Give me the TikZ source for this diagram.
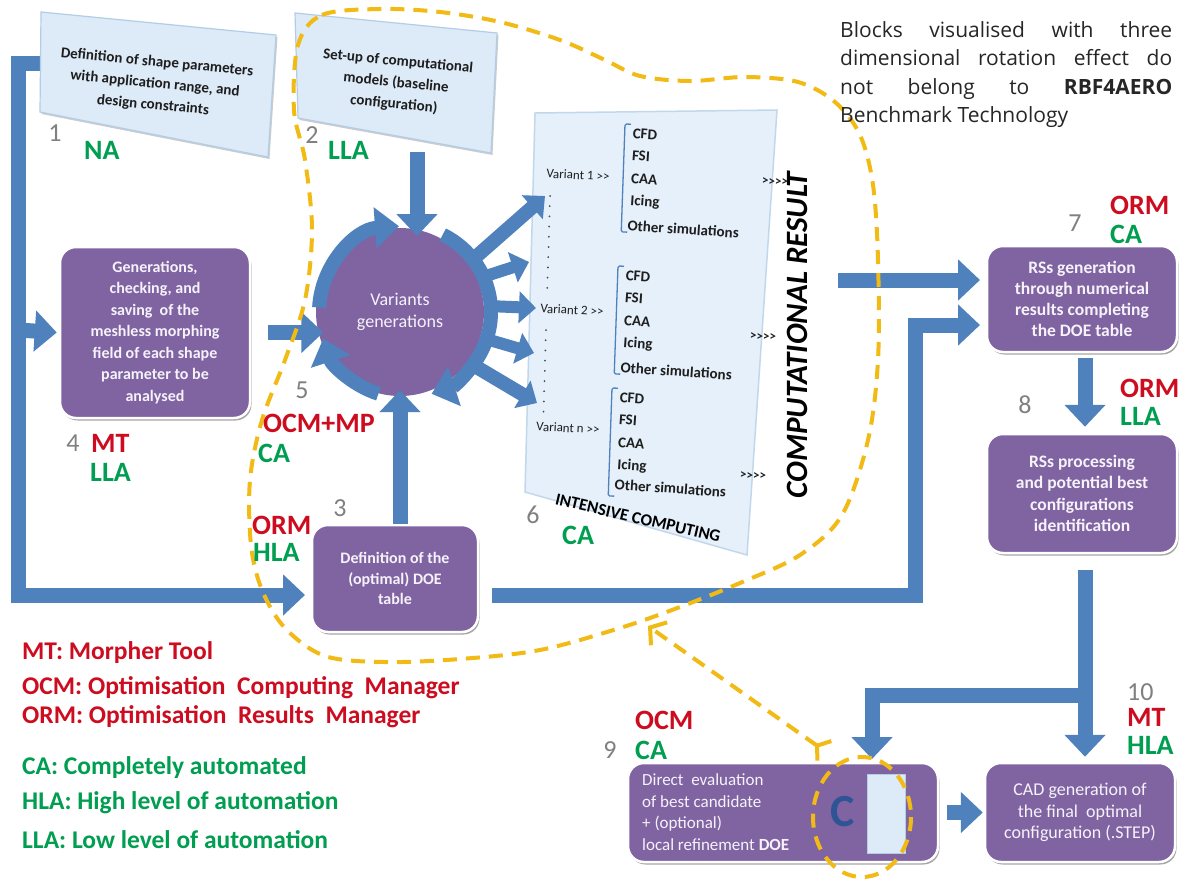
\documentclass[tikz,border=0pt]{standalone}
\usepackage{fontspec}
\setmainfont{Carlito}
\newfontfamily\osans{Open Sans}
\usetikzlibrary{arrows.meta,calc,shadows}
\definecolor{ablue}{RGB}{79,129,189}
\definecolor{vpurple}{RGB}{128,100,162}
\definecolor{ptext}{RGB}{246,242,250}
\definecolor{lblue}{RGB}{221,234,247}
\definecolor{lbluee}{RGB}{180,205,230}
\definecolor{panelblue}{RGB}{229,240,250}
\definecolor{lred}{RGB}{205,12,32}
\definecolor{lgreen}{RGB}{0,158,80}
\definecolor{lgray}{RGB}{128,128,128}
\definecolor{dyell}{RGB}{242,186,20}
\definecolor{cnavy}{RGB}{46,84,150}
\definecolor{dtext}{RGB}{30,30,30}
\newcommand\gtch{>{}}
\tikzset{
  barrow/.style={line width=15pt, draw=ablue, line join=miter, -{Triangle[length=22pt,width=40pt]}},
  sarrow/.style={line width=12pt, draw=ablue, -{Triangle[length=17pt,width=31pt]}},
  ringarrow/.style={line width=14pt, draw=ablue, -{Triangle[length=24pt,width=40pt]}},
  pbox/.style={rectangle, rounded corners=16pt, fill=vpurple, draw=white, line width=2.5pt,
     drop shadow={shadow xshift=1.5pt, shadow yshift=-2.5pt, opacity=0.35, fill=black},
     text=ptext, align=center, inner sep=2pt},
  tdbox/.style={fill=lblue, draw=lbluee, line width=1.2pt,
     drop shadow={shadow xshift=1.5pt, shadow yshift=-2pt, opacity=0.2, fill=black}},
  tdtext/.style={rotate=-5.5, align=center, text=dtext, inner sep=0pt,
     font=\bfseries\fontsize{15}{21.5}\selectfont},
  numlab/.style={text=lgray, inner sep=0pt, font=\fontsize{26}{26}\selectfont},
  redlab/.style={text=lred, inner sep=0pt, anchor=west, font=\bfseries\fontsize{28}{28}\selectfont},
  grnlab/.style={text=lgreen, inner sep=0pt, anchor=west, font=\bfseries\fontsize{28}{28}\selectfont},
  legr/.style={text=lred, inner sep=0pt, anchor=west, font=\bfseries\fontsize{25.5}{25.5}\selectfont},
  legg/.style={text=lgreen, inner sep=0pt, anchor=west, font=\bfseries\fontsize{25.5}{25.5}\selectfont},
  sim/.style={anchor=west, rotate=-4, inner sep=0pt, text=dtext, font=\bfseries\fontsize{15}{15}\selectfont},
  var/.style={rotate=-3, inner sep=0pt, text=dtext, font=\fontsize{13}{13}\selectfont},
  brk/.style={draw=ablue, line width=1.3pt, rounded corners=1.5pt},
  ydash/.style={draw=dyell, line width=4pt, dash pattern=on 14pt off 9pt},
}
\newcommand\simblock[4]{%
  \begin{scope}[shift={(#2,#3)}, rotate=-2]
    \draw[brk] (6,0) -- (0,0) -- (0,108) -- (6,108);
    \node[sim] (#1a) at (8,9) {CFD};
    \node[sim] (#1b) at (8,31) {FSI};
    \node[sim] (#1c) at (8,54) {CAA};
    \node[sim] (#1d) at (8,77) {Icing};
    \node[sim] (#1e) at (6,#4) {Other simulations};
  \end{scope}}
\begin{document}
\begin{tikzpicture}[x=1pt,y=-1pt]
\useasboundingbox (0,0) rectangle (1188,879);
\fill[white] (0,0) rectangle (1188,879);

% ---------- panel 6 ----------
\draw[fill=panelblue, draw=lbluee!80, line width=1.5pt] (535,113) -- (777,110) -- (747,555) -- (525,492) -- cycle;
\node[var] (var1) at (578,175) {Variant 1 \gtch\gtch};
\node[var] (var2) at (572,310) {Variant 2 \gtch\gtch};
\node[var] (varn) at (568,428) {Variant n \gtch\gtch};
\simblock{s1}{625}{124}{101}
\simblock{s2}{618}{266}{101}
\simblock{s3}{612}{388}{96}
\node[var, font=\bfseries\fontsize{13}{13}\selectfont] (g1) at (775,182) {\gtch\gtch\gtch\gtch};
\node[var, font=\bfseries\fontsize{13}{13}\selectfont] (g2) at (763,337) {\gtch\gtch\gtch\gtch};
\node[var, font=\bfseries\fontsize{13}{13}\selectfont] (g3) at (753,476) {\gtch\gtch\gtch\gtch};
\foreach \i in {0,...,9} \fill[black!70] (550-0.3*\i,196+10.2*\i) circle (1pt);
\foreach \i in {0,...,8} \fill[black!70] (546-0.3*\i,330+10.2*\i) circle (1pt);
\node[rotate=-13, inner sep=0pt, text=black, font=\bfseries\fontsize{17}{17}\selectfont] (intc) at (638,518) {INTENSIVE COMPUTING};
\node[rotate=90, inner sep=0pt, text=black, font=\bfseries\itshape\fontsize{31}{31}\selectfont] (compres) at (797,335) {COMPUTATIONAL RESULT};

% ---------- circle ----------
\node[circle, fill=vpurple, minimum size=168pt, inner sep=0pt, text=ptext, align=center,
      font=\fontsize{18}{22}\selectfont] (circ) at (400,312) {Variants\\generations};
\coordinate (cc) at (405,312);

% ---------- purple boxes ----------
\node[pbox, minimum width=190pt, minimum height=171pt, font=\bfseries\fontsize{16}{21.5}\selectfont] (box4) at (155,332.5)
  {Generations,\\checking, and\\saving\ \ of the\\meshless morphing\\field of each shape\\parameter to be\\analysed};
\node[pbox, minimum width=166pt, minimum height=107pt, font=\bfseries\fontsize{16}{20.5}\selectfont] (box3) at (395,578.5)
  {Definition of the\\(optimal) DOE\\table};
\node[pbox, minimum width=190pt, minimum height=106pt, font=\bfseries\fontsize{17.5}{21}\selectfont] (box7) at (1082,299)
  {RSs generation\\through numerical\\results completing\\the DOE table};
\node[pbox, minimum width=190pt, minimum height=119pt, font=\bfseries\fontsize{17.5}{21.5}\selectfont] (box8) at (1082,493.5)
  {RSs processing\\and potential best\\configurations\\identification};
\node[pbox, minimum width=310pt, minimum height=99pt] (box9) at (783,812.5) {};
\node[anchor=west, inner sep=0pt, text=ptext, align=left, font=\fontsize{17}{21.5}\selectfont] (box9t) at (642,812)
  {Direct\ \ evaluation\\of best candidate\\+ (optional)\\local refinement \textbf{DOE}};
\draw[fill=lblue, draw=lbluee, line width=1pt] (867,774) rectangle (905,853);
\node[inner sep=0pt, text=cnavy, font=\bfseries\fontsize{46}{46}\selectfont] (cletter) at (843,812) {C};
\node[pbox, minimum width=190pt, minimum height=99pt, font=\fontsize{18}{21.5}\selectfont] (box10) at (1080,812.5)
  {CAD generation of\\the final\ \ optimal\\configuration (.STEP)};

% ---------- blue block arrows ----------
\coordinate (fr0) at (41,63);
\coordinate (fr1) at (18.5,63);
\coordinate (fr2) at (18.5,595);
\coordinate (in3) at (305,595);
\draw[barrow] (fr0) -- (fr1) -- (fr2) -- (in3);
\coordinate (br4) at (18.5,330);
\draw[barrow] (br4) -- ([xshift=-2pt]box4.west);
\draw[barrow] ([xshift=17pt]box4.east) -- ++(55,0);
\coordinate (a2s) at (417,152);
\coordinate (a2e) at (417,236);
\draw[barrow] (a2s) -- (a2e);
\draw[barrow] ([xshift=5pt]box3.north) -- ([yshift=6pt]circ.south);
\coordinate (p6o) at (838,280);
\coordinate (p7i) at (980,280);
\draw[barrow] (p6o) -- (p7i);
\coordinate (d3o) at (492,595);
\coordinate (d3m) at (915,595);
\coordinate (d7i) at (980,325);
\draw[barrow] (d3o) -- (d3m) |- (d7i);
\draw[barrow] ([xshift=3pt,yshift=-5pt]box7.south) -- ([xshift=3pt,yshift=6pt]box8.north);
\draw[barrow] ([xshift=3pt,yshift=-16pt]box8.south) -- ([xshift=5pt,yshift=5pt]box10.north);
\coordinate (sp9) at (1085,695);
\coordinate (in9) at (872,759);
\draw[barrow] (sp9) -| (in9);
\draw[barrow] ([xshift=8pt]box9.east) -- ([xshift=-1pt]box10.west);

% radial arrows
\coordinate (r1s) at (470,262); \coordinate (r1e) at (545,196);
\coordinate (r2s) at (486,276); \coordinate (r2e) at (529,262);
\coordinate (r3s) at (488,306); \coordinate (r3e) at (536,308);
\coordinate (r4s) at (486,339); \coordinate (r4e) at (534,353);
\coordinate (r5s) at (468,362); \coordinate (r5e) at (537,403);
\draw[sarrow, line width=14pt] (r1s) -- (r1e);
\draw[sarrow] (r2s) -- (r2e);
\draw[sarrow] (r3s) -- (r3e);
\draw[sarrow] (r4s) -- (r4e);
\draw[sarrow, line width=14pt] (r5s) -- (r5e);
% ring arrows
\draw[ringarrow] ([shift={(183:86)}]cc) arc[start angle=183, end angle=266, radius=86];
\draw[ringarrow] ([shift={(296:86)}]cc) arc[start angle=296, end angle=432, radius=86];
\draw[ringarrow] ([shift={(108:86)}]cc) arc[start angle=108, end angle=162, radius=86];

% ---------- 3D rotated boxes ----------
\draw[tdbox] (41,12) -- (276,35) -- (268,157) -- (40,112) -- cycle;
\node[tdtext] (b1) at (155,84) {Definition of shape parameters\\with application range, and\\design constraints};
\draw[tdbox] (295,13) -- (497,33) -- (491,153) -- (298,118) -- cycle;
\node[tdtext] (b2) at (396,83) {Set-up of computational\\models (baseline\\configuration)};

% ---------- dashed yellow ----------
\draw[ydash] plot[smooth cycle, tension=0.55] coordinates {(298,45) (322,15) (380,9) (440,12) (500,22) (560,40) (605,60) (640,76) (690,81) (745,77) (798,82) (835,102) (860,135) (873,185) (878,260) (878,360) (868,440) (842,515) (800,555) (740,583) (680,607) (620,628) (540,650) (460,659) (385,662) (325,656) (285,628) (262,590) (251,545) (250,480) (262,420) (285,360) (305,300) (312,230) (305,160) (294,110)};
\coordinate (ellc) at (862,817);
\draw[ydash] (ellc) ellipse[x radius=49, y radius=60];
\coordinate (fbs) at (826,752);
\coordinate (fbe) at (648,626);
\draw[ydash, {Straight Barb[reversed,length=9pt,width=24pt]}-{Straight Barb[length=11pt,width=28pt]}] (fbs) -- (fbe);

% ---------- labels ----------
\node[numlab] (n1) at (55,133) {1};
\node[grnlab] (l1) at (84,150) {NA};
\node[numlab] (n2) at (312,135) {2};
\node[grnlab] (l2) at (328,150) {LLA};
\node[numlab] (n4) at (73,443) {4};
\node[redlab] (l4a) at (91,443) {MT};
\node[grnlab] (l4b) at (90,472) {LLA};
\node[numlab] (n5) at (302,390) {5};
\node[redlab] (l5a) at (263,423) {OCM+MP};
\node[grnlab] (l5b) at (258,453) {CA};
\node[numlab] (n3) at (340,508) {3};
\node[redlab] (l3a) at (252,525) {ORM};
\node[grnlab] (l3b) at (253,552) {HLA};
\node[numlab] (n6) at (533,515) {6};
\node[grnlab] (l6) at (562,535) {CA};
\node[numlab] (n7) at (1075,223) {7};
\node[redlab] (l7a) at (1110,205) {ORM};
\node[grnlab] (l7b) at (1110,234) {CA};
\node[numlab] (n8) at (1025,405) {8};
\node[redlab] (l8a) at (1120,388) {ORM};
\node[grnlab] (l8b) at (1120,416) {LLA};
\node[numlab] (n9) at (610,750) {9};
\node[redlab] (l9a) at (635,720) {OCM};
\node[grnlab] (l9b) at (635,750) {CA};
\node[numlab, anchor=west] (n10) at (1127,692) {10};
\node[redlab] (l10a) at (1127,717) {MT};
\node[grnlab] (l10b) at (1127,745) {HLA};

% ---------- legend ----------
\node[legr] (lg1) at (22,653) {MT: Morpher Tool};
\node[legr] (lg2) at (22,688) {OCM: Optimisation\ \ Computing\ \ Manager};
\node[legr] (lg3) at (22,717) {ORM: Optimisation\ \ Results\ \ Manager};
\node[legg] (lg4) at (22,768) {CA: Completely automated};
\node[legg] (lg5) at (22,803) {HLA: High level of automation};
\node[legg] (lg6) at (22,840) {LLA: Low level of automation};

% ---------- note ----------
\node[anchor=north west, inner sep=0pt, text width=332pt, align=justify, text=black!85,
      font=\osans\fontsize{21}{28.5}\selectfont] (note) at (840,21)
  {Blocks visualised with three\linebreak dimensional rotation effect do\linebreak not belong to \textbf{RBF4AERO}\linebreak Benchmark Technology};
\end{tikzpicture}
\end{document}
